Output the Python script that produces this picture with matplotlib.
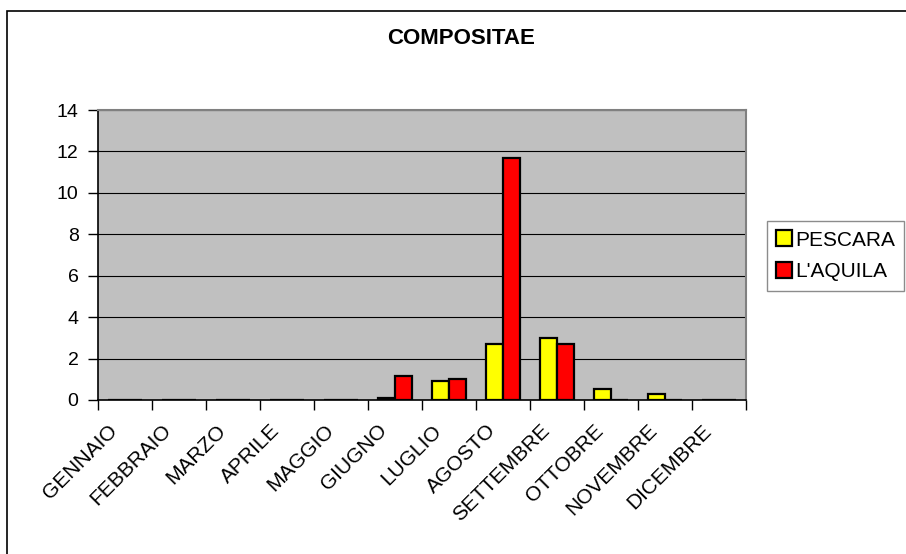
import numpy as np
import matplotlib.pyplot as plt
from matplotlib.patches import Rectangle

mesi = ['GENNAIO', 'FEBBRAIO', 'MARZO', 'APRILE', 'MAGGIO', 'GIUGNO',
        'LUGLIO', 'AGOSTO', 'SETTEMBRE', 'OTTOBRE', 'NOVEMBRE', 'DICEMBRE']
pescara = [0, 0, 0, 0.02, 0.02, 0.1, 0.92, 2.72, 2.97, 0.53, 0.28, 0]
aquila = [0, 0, 0, 0, 0.02, 1.15, 1.03, 11.7, 2.72, 0, 0, 0]
yticks = [0, 2, 4, 6, 8, 10, 12, 14]

plt.rcParams['font.family'] = ['Liberation Sans', 'DejaVu Sans']

fig = plt.figure(figsize=(9.06, 5.54), dpi=100)
ax = fig.add_axes([98/906, 1-400/554, (746-98)/906, (400-110)/554])

# outer chart border (right and bottom fall outside the picture)
fig.patches.append(Rectangle((7/906, -0.1), 1.2, 1.1-11/554, transform=fig.transFigure,
                             fill=False, edgecolor='black', linewidth=1.2))

x = np.arange(len(mesi))
w = 0.31
ax.set_facecolor('#C0C0C0')
ax.bar(x - w/2, pescara, w, color='#FFFF00', edgecolor='black', linewidth=1.6,
       label='PESCARA', zorder=3)
ax.bar(x + w/2, aquila, w, color='#FF0000', edgecolor='black', linewidth=1.6,
       label="L'AQUILA", zorder=3)

ax.set_xlim(-0.5, len(mesi) - 0.5)
ax.set_ylim(0, 14)
ax.set_yticks(yticks)
ax.yaxis.grid(True, color='black', linewidth=0.8, zorder=1)
ax.set_axisbelow(True)

# category boundaries get the tick marks, labels sit a bit left of centre
ax.set_xticks(np.arange(len(mesi) + 1) - 0.5, minor=False)
ax.set_xticklabels([])
ax.set_xticks(x - 0.32, minor=True)
ax.set_xticklabels(mesi, minor=True, rotation=45, ha='right', va='top',
                   rotation_mode='anchor', fontsize=15)
ax.tick_params(axis='x', which='major', direction='out', length=7, width=1, color='black')
ax.tick_params(axis='x', which='minor', length=0, pad=15)
ax.tick_params(axis='y', direction='out', length=7, width=1, labelsize=14, pad=7)

for s in ['top', 'right']:
    ax.spines[s].set_color('#808080')
    ax.spines[s].set_linewidth(1.5)
for s in ['left', 'bottom']:
    ax.spines[s].set_color('black')
    ax.spines[s].set_linewidth(1.2)

fig.text(461/906, 1-39/554, 'COMPOSITAE', ha='center', va='center',
         fontsize=16, fontweight='bold')

leg = fig.legend(loc='upper left', bbox_to_anchor=(767/906, 1-221/554),
                 fontsize=15, frameon=True, fancybox=False, edgecolor='#707070',
                 handlelength=0.75, handleheight=0.8, handletextpad=0.15,
                 borderpad=0.45, labelspacing=0.6, borderaxespad=0)
leg.get_frame().set_linewidth(1)

fig.savefig('out.png', dpi=100)
